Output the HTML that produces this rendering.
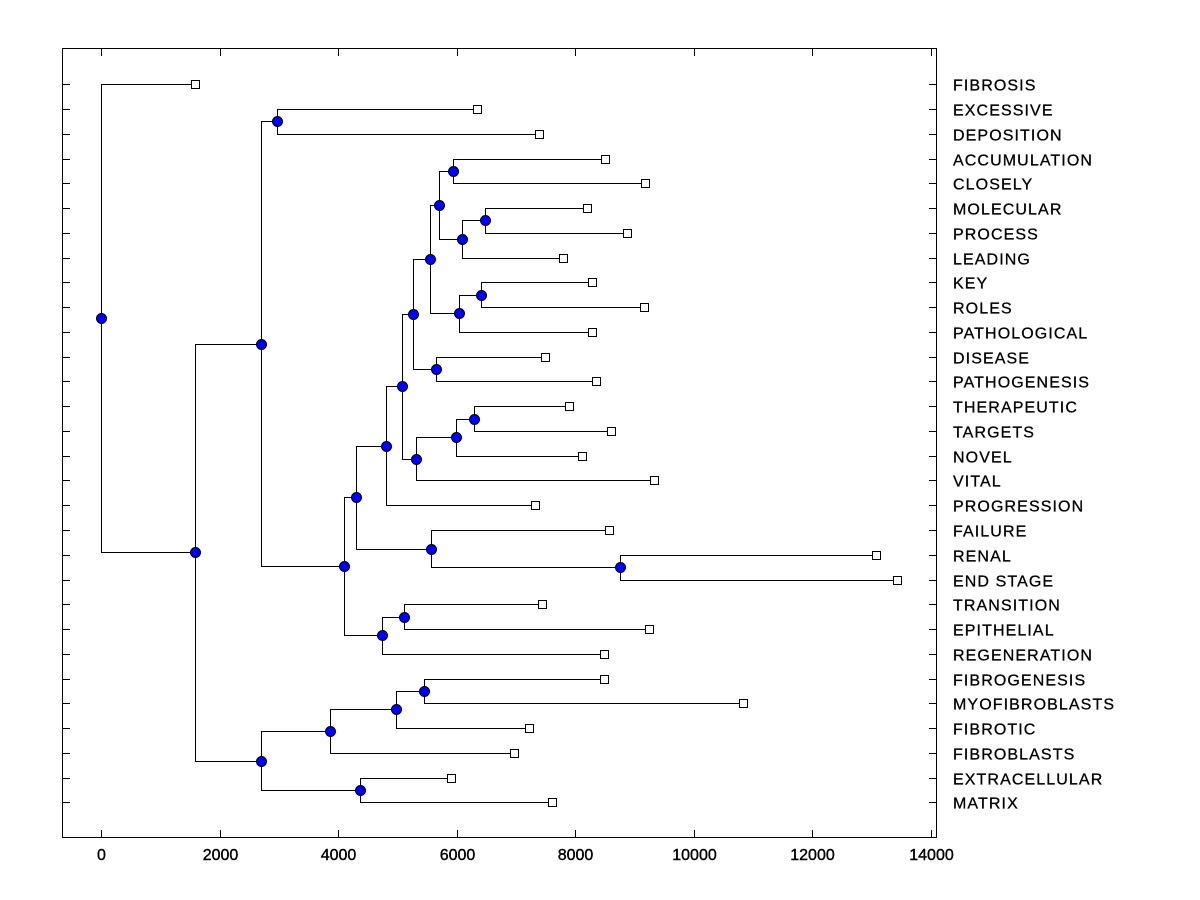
<!DOCTYPE html>
<html><head><meta charset="utf-8"><style>
html,body{margin:0;padding:0;background:#fff;}
svg{display:block;font-family:"Liberation Sans",Arial,sans-serif;}
</style></head><body>
<svg id="chart" width="1200" height="900" viewBox="0 0 1200 900" xmlns="http://www.w3.org/2000/svg">
<rect x="62.5" y="48.5" width="874" height="789" fill="none" stroke="#000" stroke-width="1"/>
<g id="axis"></g>
<g id="links"></g>
<g id="marks"></g>
<g id="labels"></g>
</svg>
<script>
const leafNames = ["FIBROSIS","EXCESSIVE","DEPOSITION","ACCUMULATION","CLOSELY","MOLECULAR","PROCESS","LEADING","KEY","ROLES","PATHOLOGICAL","DISEASE","PATHOGENESIS","THERAPEUTIC","TARGETS","NOVEL","VITAL","PROGRESSION","FAILURE","RENAL","END STAGE","TRANSITION","EPITHELIAL","REGENERATION","FIBROGENESIS","MYOFIBROBLASTS","FIBROTIC","FIBROBLASTS","EXTRACELLULAR","MATRIX"];
const leafHeights = [1590,6350,7390,8500,9180,8190,8880,7800,8290,9160,8290,7490,8350,7900,8610,8120,9320,7325,8570,13080,13430,7440,9250,8490,8490,10835,7220,6970,5910,7600];
const mergeA = [1,3,5,32,31,8,35,34,11,37,13,40,41,39,43,19,18,44,21,48,47,30,24,52,53,28,54,51,0];
const mergeB = [2,4,6,7,33,9,10,36,12,38,14,15,16,42,17,20,45,46,22,23,49,50,25,26,27,29,55,56,57];
const mergeH = [2970,5940,6480,6090,5700,6410,6040,5550,5650,5270,6300,5990,5320,5080,4810,8760,5570,4300,5110,4740,4100,2700,5450,4980,3865,4370,2700,1590,0];
const xTicks = [0,2000,4000,6000,8000,10000,12000,14000];

const NS = "http://www.w3.org/2000/svg";
const X0 = 101, PXPER = 118.57/2000;
function xs(v){ return X0 + v*PXPER; }
const Y0 = 84.3, ROW = 24.76;
function ys(i){ return Y0 + i*ROW; }
function mk(tag, attrs, parent){ const e=document.createElementNS(NS,tag); for(const k in attrs) e.setAttribute(k,attrs[k]); parent.appendChild(e); return e; }

const axis = document.getElementById('axis');
const links = document.getElementById('links');
const marks = document.getElementById('marks');
const labels = document.getElementById('labels');

xTicks.forEach(t=>{
  const x = Math.round(xs(t))+0.5;
  let l = mk('line',{x1:x,x2:x,y1:49,y2:56,stroke:'#000'},axis);
  
  
  l = mk('line',{x1:x,x2:x,y1:830,y2:837,stroke:'#000'},axis);
  
  
  const tx = mk('text',{x:x,y:860,'text-anchor':'middle','font-size':'16','stroke':'#000','stroke-width':'0.4'},axis);
  tx.textContent = t;
  
  
});

const nx = [], ny = [];
leafNames.forEach((n,i)=>{ nx[i]=leafHeights[i]; ny[i]=ys(i); });
mergeA.forEach((a,k)=>{
  const id = leafNames.length + k, b = mergeB[k];
  nx[id] = mergeH[k]; ny[id] = (ny[a]+ny[b])/2;
});

leafNames.forEach((n,i)=>{
  const y = Math.round(ys(i))+0.5;
  let l = mk('line',{x1:63,x2:70,y1:y,y2:y,stroke:'#000'},axis);
  
  
  l = mk('line',{x1:929,x2:936,y1:y,y2:y,stroke:'#000'},axis);
  
  
  const t = mk('text',{x:953,y:y+6,'font-size':'16','letter-spacing':'1.1','stroke':'#000','stroke-width':'0.3'},labels);
  t.textContent = n;
  
  
});

mergeA.forEach((a,k)=>{
  const id = leafNames.length + k, b = mergeB[k];
  const px = Math.round(xs(nx[id]))+0.5;
  const ya = Math.round(ny[a])+0.5, yb = Math.round(ny[b])+0.5;
  const d = `M${Math.round(xs(nx[a]))},${ya}H${px}V${yb}H${Math.round(xs(nx[b]))}`;
  const p = mk('path',{d:d,fill:'none',stroke:'#000','stroke-width':1},links);
  
  
});

leafNames.forEach((n,i)=>{
  const x = Math.round(xs(leafHeights[i])), y = Math.round(ys(i));
  const r = mk('rect',{x:x-3.5,y:y-3.5,width:8,height:8,fill:'#fff',stroke:'#000'},marks);
  
  
});
mergeA.forEach((a,k)=>{
  const id = leafNames.length + k;
  const c = mk('circle',{cx:Math.round(xs(nx[id]))+0.5,cy:Math.round(ny[id])+0.5,r:5,fill:'#0000ff',stroke:'#000','stroke-width':1},marks);
  
  
});
</script>
</body></html>
